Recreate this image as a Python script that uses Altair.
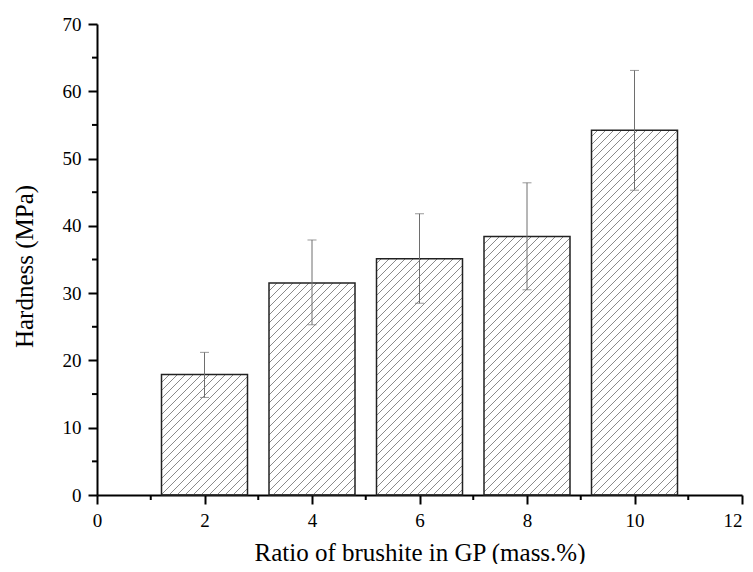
import altair as alt
import pandas as pd
import numpy as np

# ---- data ----
ratios = [2, 4, 6, 8, 10]
hardness = [17.9, 31.5, 35.1, 38.4, 54.2]
err_low = [14.5, 25.3, 28.5, 30.5, 45.3]
err_high = [21.2, 37.9, 41.8, 46.4, 63.1]
x_ticks = [0, 2, 4, 6, 8, 10, 12]
x_minor = [1, 3, 5, 7, 9, 11]
y_ticks = [0, 10, 20, 30, 40, 50, 60, 70]
y_minor = [5, 15, 25, 35, 45, 55, 65]

W, H = 645, 471
XMAX, YMAX = 12, 70
HALF = 0.8          # half bar width in data units
SP = 8.0            # hatch spacing in px
FONT = "Liberation Serif, Times New Roman, serif"

sx = W / XMAX
sy = H / YMAX

bars = pd.DataFrame({
    "x": ratios,
    "x0": [r - HALF for r in ratios],
    "x1": [r + HALF for r in ratios],
    "y": hardness,
    "lo": err_low,
    "hi": err_high,
})

# hatch segments ("/" at 45 deg) clipped to each bar
rows = []
for r, v in zip(ratios, hardness):
    L, R, T = (r - HALF) * sx, (r + HALF) * sx, v * sy
    c = np.floor((L - T) / SP) * SP
    while c < R:
        xs = max(L, c)
        ys = xs - c
        xe = min(R, c + T)
        ye = xe - c
        if ys <= T and xe - xs > 0.5:
            rows.append({"hx0": xs / sx, "hy0": ys / sy, "hx1": xe / sx, "hy1": ye / sy})
        c += SP
hatch = pd.DataFrame(rows)

xscale = alt.Scale(domain=[0, XMAX], nice=False, zero=False)
yscale = alt.Scale(domain=[0, YMAX], nice=False, zero=False)

xaxis = alt.Axis(values=x_ticks, title="Ratio of brushite in GP (mass.%)", grid=False,
                 tickSize=9, tickWidth=2, tickColor="black", domainWidth=2, domainColor="black",
                 labelFont=FONT, labelFontSize=19, labelColor="black", labelPadding=7,
                 labelAlign=alt.expr("datum.value == 12 ? 'right' : 'center'"),
                 labelOverlap=False,
                 titleFont=FONT, titleFontSize=25, titleFontWeight="normal", titleColor="black",
                 titleY=65, titleBaseline="alphabetic", format="d")
yaxis = alt.Axis(values=y_ticks, title="Hardness (MPa)", grid=False,
                 tickSize=9, tickWidth=2, tickColor="black", domainWidth=2, domainColor="black",
                 labelFont=FONT, labelFontSize=19, labelColor="black", labelPadding=7,
                 labelOverlap=False,
                 titleFont=FONT, titleFontSize=25, titleFontWeight="normal", titleColor="black",
                 titleX=-65, titleY=242, titleBaseline="alphabetic", format="d")

hatch_layer = alt.Chart(hatch).mark_rule(color="#8a8a8a", strokeWidth=1).encode(
    x=alt.X("hx0:Q", scale=xscale, axis=xaxis),
    x2="hx1:Q",
    y=alt.Y("hy0:Q", scale=yscale, axis=yaxis),
    y2="hy1:Q",
)

bar_layer = alt.Chart(bars).mark_rect(fill="white", fillOpacity=0, stroke="#222222", strokeWidth=1.5).encode(
    x=alt.X("x0:Q", scale=xscale),
    x2="x1:Q",
    y=alt.Y("y:Q", scale=yscale),
    y2=alt.datum(0),
)

err_layer = alt.Chart(bars).mark_rule(color="#6e6e6e", strokeWidth=1).encode(
    x=alt.X("x:Q", scale=xscale),
    y=alt.Y("lo:Q", scale=yscale),
    y2="hi:Q",
)
cap_lo = alt.Chart(bars).mark_tick(orient="horizontal", size=9, thickness=1, color="#6e6e6e").encode(
    x=alt.X("x:Q", scale=xscale),
    y=alt.Y("lo:Q", scale=yscale),
)
cap_hi = alt.Chart(bars).mark_tick(orient="horizontal", size=9, thickness=1, color="#6e6e6e").encode(
    x=alt.X("x:Q", scale=xscale),
    y=alt.Y("hi:Q", scale=yscale),
)

xminor_df = pd.DataFrame({"xm": x_minor})
yminor_df = pd.DataFrame({"ym": y_minor})
xminor_layer = alt.Chart(xminor_df).mark_rule(color="black", strokeWidth=2).encode(
    x=alt.X("xm:Q", scale=xscale),
    y=alt.value(H),
    y2=alt.value(H + 5),
)
yminor_layer = alt.Chart(yminor_df).mark_rule(color="black", strokeWidth=2).encode(
    y=alt.Y("ym:Q", scale=yscale),
    x=alt.value(-5),
    x2=alt.value(0),
)

chart = alt.layer(
    hatch_layer, bar_layer, err_layer, cap_lo, cap_hi, xminor_layer, yminor_layer
).properties(
    width=W, height=H,
    autosize=alt.AutoSizeParams(type="none"),
    padding={"left": 89, "top": 16, "right": 3, "bottom": 69},
    background="white",
).configure_view(stroke=None)

chart.save("out.html", embed_options={"renderer": "svg", "actions": False})
